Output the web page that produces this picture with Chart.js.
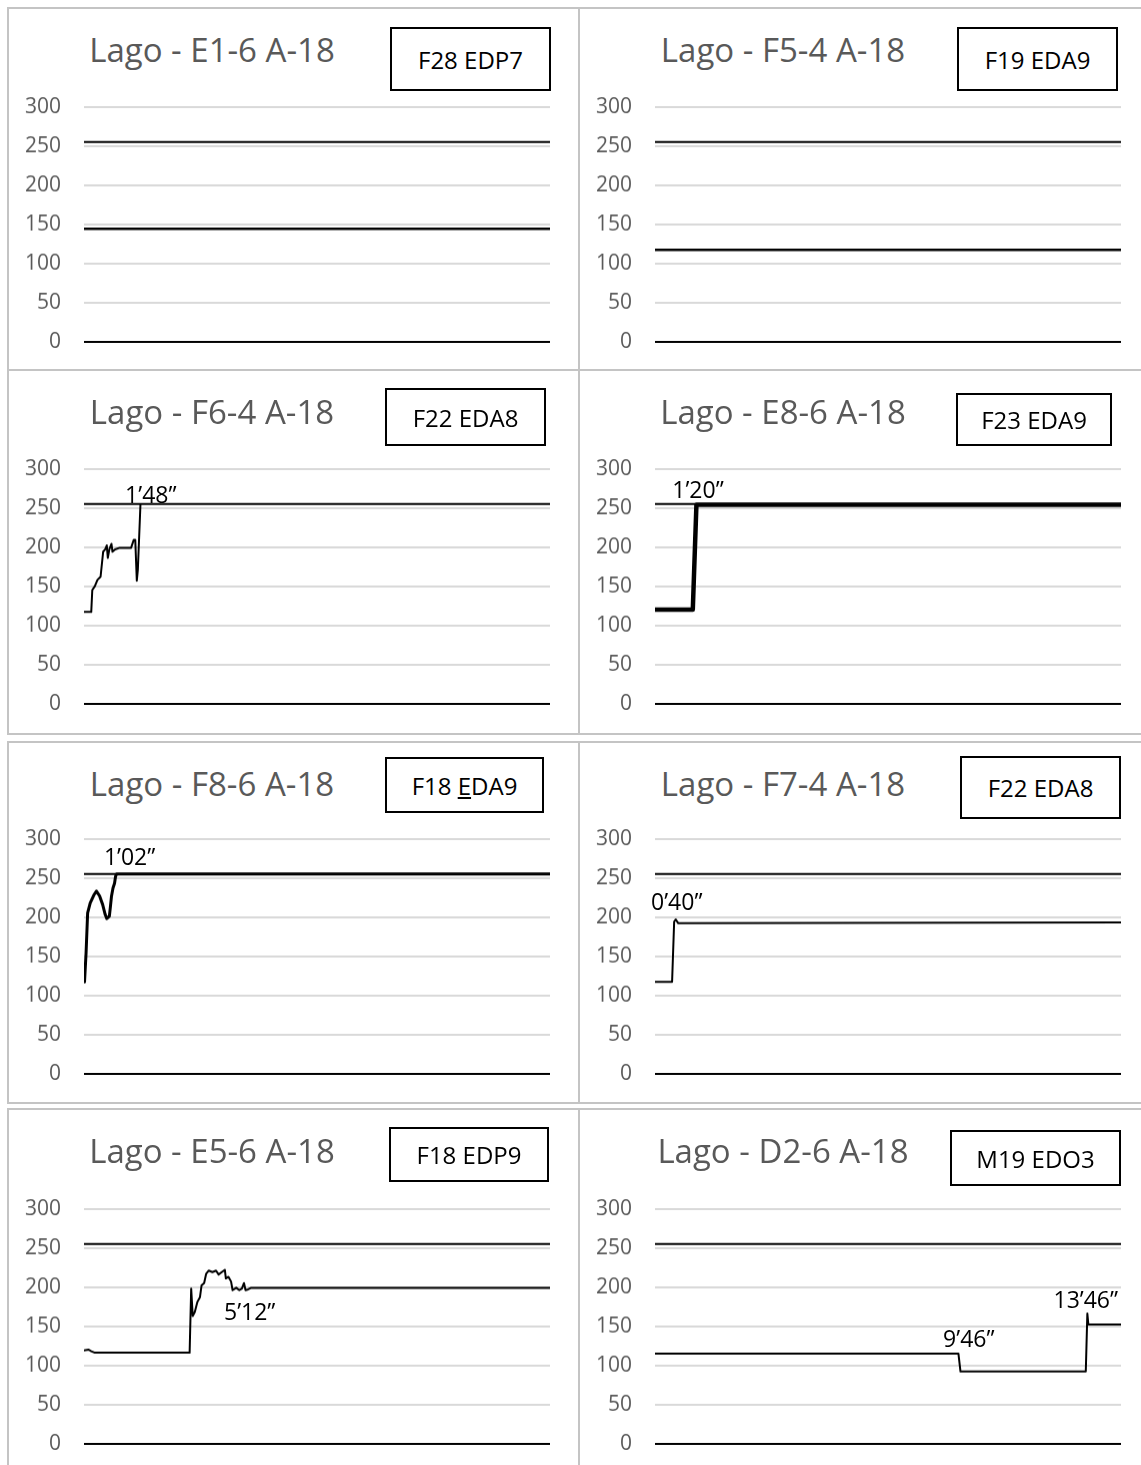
<!DOCTYPE html>
<html lang="es">
<head>
<meta charset="utf-8">
<title>Lago - A-18</title>
<script src="https://cdn.jsdelivr.net/npm/chart.js@4.4.1/dist/chart.umd.min.js"></script>
<style>
    body { margin: 0; background: #fff; width: 1141px; height: 1465px; overflow: hidden; position: relative;
           font-family: 'Open Sans', 'Noto Sans', sans-serif; }
    .panel { position: absolute; border: 2px solid #c4c4c4; box-sizing: border-box; }
    .titulo { position: absolute; font-size: 33px; line-height: 1; color: #595959; text-align: center; white-space: nowrap; }
    .codigo { position: absolute; border: 2px solid #000; box-sizing: border-box; display: flex;
              align-items: center; justify-content: center; font-size: 24px; color: #000; background: #fff; }
    .codigo span { white-space: pre; }
    .nota { position: absolute; font-size: 23px; line-height: 1; color: #000; transform: translateX(-50%); white-space: nowrap; }
    canvas { position: absolute; }
</style>
</head>
<body>
<script>
// Graduations de l'axe Y et seuil de référence
const marcasY = [0, 50, 100, 150, 200, 250, 300];
const umbral = 255;
const duracion = 900; // 15 min, en secondes

const titulos = ['Lago - E1-6 A-18', 'Lago - F5-4 A-18', 'Lago - F6-4 A-18', 'Lago - E8-6 A-18',
                 'Lago - F8-6 A-18', 'Lago - F7-4 A-18', 'Lago - E5-6 A-18', 'Lago - D2-6 A-18'];
const codigos = ['F28 EDP7', 'F19 EDA9', 'F22 EDA8', 'F23 EDA9', 'F18 EDA9', 'F22 EDA8', 'F18 EDP9', 'M19 EDO3'];

// Temps (s) et valeurs de chaque enregistrement
const tiemposE1 = [0, 900];
const valoresE1 = [144, 144];

const tiemposF5 = [0, 900];
const valoresF5 = [117, 117];

const tiemposF6 = [0, 14, 16, 21, 26, 32, 37, 41, 44, 46, 49, 53, 55, 60, 69, 91, 96, 99, 102, 104, 109];
const valoresF6 = [117, 117, 145, 150, 158, 162, 194, 197, 202, 186, 197, 204, 194, 197, 199, 199, 209, 209, 157, 171, 254];

const tiemposE8 = [0, 73, 80, 900];
const valoresE8 = [120, 120, 254, 254];

const tiemposF8 = [1, 4, 7, 12, 19, 24, 30, 36, 41, 44, 49, 51, 53, 56, 59, 61, 63, 900];
const valoresF8 = [117, 154, 205, 218, 228, 233, 227, 216, 203, 198, 201, 213, 226, 237, 243, 252, 255, 255];

const tiemposF7 = [0, 33, 37, 40, 45, 900];
const valoresF7 = [117, 117, 194, 197, 192, 193];

const tiemposE5 = [0, 9, 14, 21, 204, 207, 210, 214, 219, 224, 227, 232, 236, 241, 248, 255, 260, 266, 272,
                   274, 279, 284, 287, 294, 300, 305, 309, 312, 317, 323, 900];
const valoresE5 = [119, 120, 118, 116, 116, 198, 163, 168, 181, 187, 202, 205, 217, 221, 219, 221, 216, 219, 222,
                   211, 213, 207, 196, 199, 196, 198, 205, 196, 197, 199, 199];

const tiemposD2 = [0, 586, 590, 832, 835, 837, 900];
const valoresD2 = [115, 115, 92, 92, 166, 152, 152];

const tiempos = [tiemposE1, tiemposF5, tiemposF6, tiemposE8, tiemposF8, tiemposF7, tiemposE5, tiemposD2];
const valores = [valoresE1, valoresF5, valoresF6, valoresE8, valoresF8, valoresF7, valoresE5, valoresD2];

// Annotations (temps en s, valeur de la ligne de base du texte)
const notas = [
    [], [],
    [{ texto: '1’48”', t: 129, v: 256 }],
    [{ texto: '1’20”', t: 83, v: 263 }],
    [{ texto: '1’02”', t: 88, v: 267 }],
    [{ texto: '0’40”', t: 42, v: 209 }],
    [{ texto: '5’12”', t: 320, v: 158 }],
    [{ texto: '9’46”', t: 606, v: 123 }, { texto: '13’46”', t: 832, v: 173 }]
];

// Mise en page (pixels)
const bordeCol = [7, 578];
const anchoCol = [573, 580];
const bordeFila = [7, 369, 741, 1108];
const altoFila = [364, 366, 363, 370];
const plotX = [84, 655];
const plotY = [107, 469, 839, 1209];
const plotAncho = 466;
const plotAlto = 234;
const cajas = [[390, 27, 551, 91], [957, 27, 1118, 91], [385, 388, 546, 446], [956, 393, 1112, 446],
               [385, 757, 544, 813], [960, 756, 1121, 819], [389, 1127, 549, 1182], [950, 1130, 1121, 1186]];
const grosores = [2.5, 2.5, 2, 4.5, 3, 2, 2, 2];
const subrayado = { 4: 4 }; // 'F18 EDA9' : le E est souligné

function ajouter(tag, clase, estilos) {
    const el = document.createElement(tag);
    if (clase) el.className = clase;
    Object.assign(el.style, estilos);
    document.body.appendChild(el);
    return el;
}

function crearGrafico(i) {
    const col = i % 2;
    const fila = Math.floor(i / 2);

    // Cadre du panneau
    ajouter('div', 'panel', {
        left: bordeCol[col] + 'px', top: bordeFila[fila] + 'px',
        width: anchoCol[col] + 'px', height: altoFila[fila] + 'px'
    });

    // Titre
    const titulo = ajouter('div', 'titulo', {
        left: bordeCol[col] + 'px', top: (bordeFila[fila] + 26) + 'px', width: '410px'
    });
    titulo.textContent = titulos[i];

    // Encadré du code
    const c = cajas[i];
    const caja = ajouter('div', 'codigo', {
        left: c[0] + 'px', top: c[1] + 'px', width: (c[2] - c[0]) + 'px', height: (c[3] - c[1]) + 'px'
    });
    const span = document.createElement('span');
    if (subrayado[i] !== undefined) {
        const k = subrayado[i];
        const txt = codigos[i];
        const u = document.createElement('u');
        u.textContent = txt[k];
        span.append(txt.slice(0, k), u, txt.slice(k + 1));
    } else {
        span.textContent = codigos[i];
    }
    caja.appendChild(span);

    // Graphique
    const izq = plotX[col] - 76;
    const ancho = 76 + plotAncho + 8;
    const canvas = document.createElement('canvas');
    canvas.width = ancho;
    canvas.height = plotAlto + 28;
    canvas.style.left = izq + 'px';
    canvas.style.top = (plotY[fila] - 14) + 'px';
    document.body.appendChild(canvas);

    const puntos = tiempos[i].map((t, k) => ({ x: t, y: valores[i][k] }));

    const grafico = new Chart(canvas, {
        type: 'line',
        data: {
            datasets: [
                { data: [{ x: 0, y: umbral }, { x: duracion, y: umbral }], borderColor: '#000', borderWidth: 2 },
                { data: puntos, borderColor: '#000', borderWidth: grosores[i] }
            ]
        },
        options: {
            responsive: false,
            maintainAspectRatio: false,
            animation: false,
            devicePixelRatio: 1,
            layout: { padding: { top: 14, bottom: 14, left: 0, right: 8 } },
            elements: {
                point: { radius: 0 },
                line: { tension: 0, borderJoinStyle: 'round', borderCapStyle: 'round' }
            },
            plugins: { legend: { display: false }, tooltip: { enabled: false } },
            scales: {
                x: { type: 'linear', min: 0, max: duracion, display: false },
                y: {
                    min: 0, max: 300,
                    afterFit: s => { s.width = 76; },
                    afterBuildTicks: s => { s.ticks = marcasY.map(v => ({ value: v })); },
                    ticks: {
                        color: '#595959', padding: 23,
                        font: { family: "'Open Sans', 'Noto Sans', sans-serif", size: 21 }
                    },
                    grid: {
                        drawTicks: false, lineWidth: 2,
                        color: ctx => (ctx.tick && ctx.tick.value === 0) ? '#000' : '#d9d9d9'
                    },
                    border: { display: false }
                }
            }
        }
    });

    // Ajuste la taille du canvas pour que la zone de tracé fasse exactement plotAlto
    const zona = grafico.chartArea;
    const extra = plotAlto - (zona.bottom - zona.top);
    if (Math.abs(extra) > 0.5) {
        grafico.resize(ancho, canvas.height + extra);
    }
    const arriba = plotY[fila] - grafico.chartArea.top;
    canvas.style.top = arriba + 'px';

    // Annotations placées avec les échelles du graphique
    notas[i].forEach(n => {
        const px = grafico.scales.x.getPixelForValue(n.t);
        const py = grafico.scales.y.getPixelForValue(n.v);
        const el = ajouter('div', 'nota', { left: (izq + px) + 'px', top: (arriba + py - 20) + 'px' });
        el.textContent = n.texto;
    });
}

for (let i = 0; i < 8; i++) crearGrafico(i);
</script>
</body>
</html>
